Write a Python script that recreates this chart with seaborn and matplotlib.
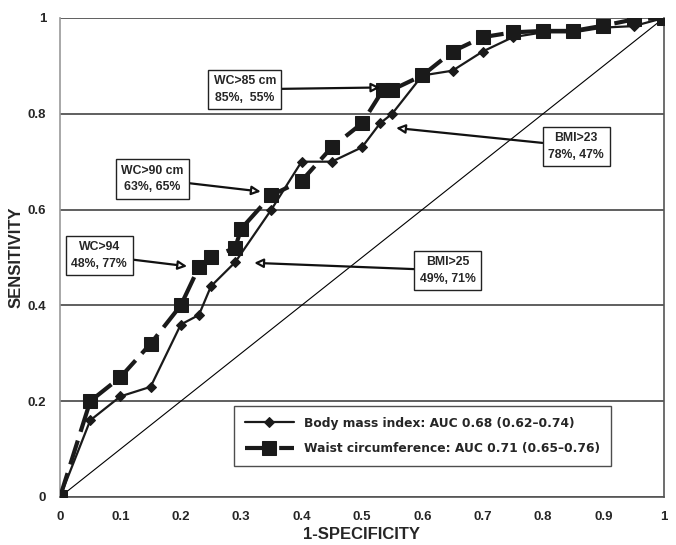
import matplotlib
matplotlib.use("Agg")
import matplotlib.pyplot as plt
import seaborn as sns
import pandas as pd

# Datos de las curvas ROC
bmi_x = [0, 0.05, 0.10, 0.15, 0.20, 0.23, 0.25, 0.29, 0.35, 0.40, 0.45, 0.50,
         0.53, 0.55, 0.60, 0.65, 0.70, 0.75, 0.80, 0.85, 0.90, 0.95, 1.0]
bmi_y = [0, 0.16, 0.21, 0.23, 0.36, 0.38, 0.44, 0.49, 0.60, 0.70, 0.70, 0.73,
         0.78, 0.80, 0.88, 0.89, 0.93, 0.96, 0.97, 0.97, 0.98, 0.983, 1.0]

wc_x = [0, 0.05, 0.10, 0.15, 0.20, 0.23, 0.25, 0.29, 0.30, 0.35, 0.40, 0.45,
        0.50, 0.535, 0.55, 0.60, 0.65, 0.70, 0.75, 0.80, 0.85, 0.90, 0.95, 1.0]
wc_y = [0, 0.20, 0.25, 0.32, 0.40, 0.48, 0.50, 0.52, 0.56, 0.63, 0.66, 0.73,
        0.78, 0.85, 0.85, 0.88, 0.93, 0.96, 0.97, 0.973, 0.973, 0.984, 0.997, 1.0]

bmi_label = "Body mass index: AUC 0.68 (0.62\u20130.74)"
wc_label = "Waist circumference: AUC 0.71 (0.65\u20130.76)"

# Anotaciones: texto, punto señalado, posición del cuadro
notes = [
    ("WC>85 cm\n85%,  55%", (0.535, 0.855), (0.306, 0.851)),
    ("WC>90 cm\n63%, 65%", (0.337, 0.637), (0.153, 0.664)),
    ("WC>94\n48%, 77%", (0.215, 0.481), (0.065, 0.504)),
    ("BMI>23\n78%, 47%", (0.552, 0.771), (0.855, 0.732)),
    ("BMI>25\n49%, 71%", (0.317, 0.489), (0.642, 0.473)),
]

x_ticks = [0, 0.1, 0.2, 0.3, 0.4, 0.5, 0.6, 0.7, 0.8, 0.9, 1.0]
x_tick_labels = ["0", "0.1", "0.2", "0.3", "0.4", "0.5", "0.6", "0.7", "0.8", "0.9", "1"]
y_ticks = [0, 0.2, 0.4, 0.6, 0.8, 1.0]
y_tick_labels = ["0", "0.2", "0.4", "0.6", "0.8", "1"]

sns.set_theme(style="white")
plt.rcParams['font.family'] = ['Liberation Sans', 'DejaVu Sans']

fig = plt.figure(figsize=(6.76, 5.45), dpi=100)
ax = fig.add_axes([0.0888, 0.0881, 0.8932, 0.8789])

bmi_df = pd.DataFrame({'x': bmi_x, 'y': bmi_y})
wc_df = pd.DataFrame({'x': wc_x, 'y': wc_y})

# Línea diagonal de referencia
ax.plot([0, 1], [0, 1], color='black', lw=0.8, zorder=2)

sns.lineplot(data=bmi_df, x='x', y='y', sort=False, ax=ax, color='#1a1a1a',
             lw=1.6, marker='D', markersize=5.5, markeredgecolor='#1a1a1a',
             label=bmi_label, zorder=4)
sns.lineplot(data=wc_df, x='x', y='y', sort=False, ax=ax, color='#1a1a1a',
             lw=3, linestyle=(0, (6, 2.2)), marker='s', markersize=10,
             markeredgecolor='#1a1a1a', label=wc_label, zorder=3)

ax.set_xlim(0, 1)
ax.set_ylim(0, 1)
ax.set_xticks(x_ticks)
ax.set_xticklabels(x_tick_labels, fontweight='bold', fontsize=9.5)
ax.set_yticks(y_ticks)
ax.set_yticklabels(y_tick_labels, fontweight='bold', fontsize=9.5)
ax.tick_params(axis='both', direction='out', length=4, width=1, color='#444444', pad=6)
ax.yaxis.grid(True, color='#444444', lw=1.2)
ax.xaxis.grid(False)
ax.set_axisbelow(True)
for side in ['left', 'right', 'bottom']:
    ax.spines[side].set_color('#555555')
    ax.spines[side].set_linewidth(1.2)
ax.spines['left'].set_color('#999999')
ax.spines['top'].set_visible(False)

ax.set_xlabel("1-SPECIFICITY", fontweight='bold', fontsize=12, labelpad=3)
ax.set_ylabel("SENSITIVITY", fontweight='bold', fontsize=12, labelpad=3)

for text, xy, xytext in notes:
    ax.annotate(text, xy=xy, xytext=xytext, ha='center', va='center',
                fontsize=8.8, fontweight='bold', linespacing=1.5,
                bbox=dict(boxstyle='square,pad=0.45', fc='white', ec='#222222', lw=1),
                arrowprops=dict(arrowstyle='-|>,head_length=0.6,head_width=0.3',
                                fc='white', ec='#111111', lw=1.6, shrinkA=0, shrinkB=2),
                zorder=6)

leg = ax.legend(loc='lower right', bbox_to_anchor=(0.922, 0.052), frameon=True,
                fancybox=False, edgecolor='#222222', handlelength=4.0,
                borderpad=0.9, labelspacing=1.0,
                prop={'family': 'DejaVu Sans', 'weight': 'bold', 'size': 8.8})
leg.get_frame().set_linewidth(1)

plt.savefig('out.png', dpi=100)
plt.close()
